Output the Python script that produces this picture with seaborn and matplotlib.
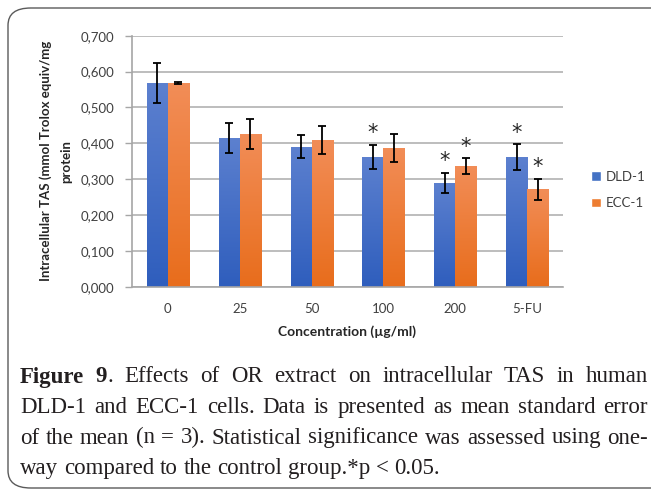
import numpy as np
import pandas as pd
import matplotlib
matplotlib.use("Agg")
import matplotlib.pyplot as plt
import seaborn as sns
from matplotlib.patches import FancyBboxPatch, Patch
from matplotlib.colors import LinearSegmentedColormap

# ---- data ----
concentrations = ["0", "25", "50", "100", "200", "5-FU"]
dld1_mean = [0.568, 0.415, 0.390, 0.362, 0.289, 0.362]
dld1_se = [0.056, 0.041, 0.032, 0.034, 0.029, 0.036]
ecc1_mean = [0.568, 0.426, 0.409, 0.387, 0.337, 0.272]
ecc1_se = [0.002, 0.041, 0.040, 0.038, 0.022, 0.029]
dld1_sig = [False, False, False, True, True, True]
ecc1_sig = [False, False, False, False, True, True]
series = ["DLD-1", "ECC-1"]
y_ticks = [0.0, 0.1, 0.2, 0.3, 0.4, 0.5, 0.6, 0.7]
y_label = "Intracellular TAS (mmol Trolox equiv/mg\nprotein"
x_label = "Concentration (µg/ml)"
caption_lines = [
    [[("Figure", "bold")], [("9", "bold"), (".", "normal")], "Effects", "of", "OR", "extract",
     "on", "intracellular", "TAS", "in", "human"],
    "DLD-1 and ECC-1 cells. Data is presented as mean standard error".split(),
    "of the mean (n = 3). Statistical significance was assessed using one-".split(),
    "way compared to the control group.*p < 0.05.".split(),
]

df = pd.DataFrame({
    "Concentration": concentrations * 2,
    "Value": dld1_mean + ecc1_mean,
    "Line": [series[0]] * len(concentrations) + [series[1]] * len(concentrations),
})

W, H = 651, 495
fig = plt.figure(figsize=(W / 100, H / 100), dpi=100)
sns.set_style("white")
plt.rcParams["font.family"] = ["Lato", "DejaVu Sans"]

ax = fig.add_axes([132 / W, 1 - 286.7 / H, (563 - 132) / W, (286.7 - 35.7) / H])
sns.barplot(data=df, x="Concentration", y="Value", hue="Line", order=concentrations,
            hue_order=series, palette=["#4472C4", "#ED7D31"], errorbar=None,
            width=0.585, gap=0, ax=ax, legend=False, saturation=1)

ax.set_ylim(0, 0.7)
ax.set_yticks(y_ticks)
ax.set_yticklabels([f"{v:.3f}".replace(".", ",") for v in y_ticks], fontsize=9.5, color="#404040")
ax.tick_params(axis="x", labelsize=9.5, labelcolor="#404040", length=0, pad=12)
ax.tick_params(axis="y", length=5, color="#A6A6A6", width=1, direction="out", pad=8, left=True)
ax.grid(axis="y", color="#BDBDBD", lw=1.4)
ax.set_axisbelow(True)
for s in ["top", "right"]:
    ax.spines[s].set_visible(False)
for s in ["left", "bottom"]:
    ax.spines[s].set_color("#A6A6A6")
    ax.spines[s].set_linewidth(1.2)
ax.set_xlabel(x_label, fontsize=10, fontweight="bold", color="#262626", labelpad=7)
ax.set_ylabel(y_label, fontsize=9.5, fontweight="bold", color="#262626", labelpad=6,
              linespacing=1.75)

grads = [
    LinearSegmentedColormap.from_list("b", ["#2F5EBD", "#5C80CF"]),
    LinearSegmentedColormap.from_list("o", ["#E86D1C", "#F28D57"]),
]
means = [dld1_mean, ecc1_mean]
ses = [dld1_se, ecc1_se]
sigs = [dld1_sig, ecc1_sig]
xl, yl = ax.get_xlim(), ax.get_ylim()
bar_containers = list(ax.containers)
for k, cont in enumerate(bar_containers):
    xs = []
    for p in cont.patches:
        x0, w, h = p.get_x(), p.get_width(), p.get_height()
        xs.append(x0 + w / 2)
        im = ax.imshow(np.linspace(0, 1, 100).reshape(-1, 1), cmap=grads[k], aspect="auto",
                       extent=[x0, x0 + w, 0, h], origin="lower", zorder=2)
        im.set_clip_path(p)
        p.set_edgecolor("none")
    ax.errorbar(xs, means[k], yerr=ses[k], fmt="none", ecolor="black", elinewidth=1.3,
                capsize=3, capthick=1.3, zorder=4)
    for x, m, e, s in zip(xs, means[k], ses[k], sigs[k]):
        if s:
            ax.text(x, m + e + 0.004, "*", ha="center", va="bottom", fontsize=15,
                    family="DejaVu Sans", color="#262626", zorder=5)
ax.set_xlim(xl)
ax.set_ylim(yl)

handles = [Patch(facecolor="#4472C4", label=series[0]), Patch(facecolor="#ED7D31", label=series[1])]
fig.legend(handles=handles, loc="center left", bbox_to_anchor=(579 / W, 1 - 190 / H),
           frameon=False, fontsize=9.5, handlelength=0.75, handleheight=0.75,
           handletextpad=0.4, labelspacing=1.1, labelcolor="#404040")

# frame
fig.patches.append(FancyBboxPatch((8 / W, 1 - 488 / H), 700 / W, 480 / H,
                                  boxstyle="round,pad=0,rounding_size=0.035",
                                  transform=fig.transFigure, fill=False,
                                  edgecolor="#5A5A5A", lw=1.0))

# caption, justified
fig.canvas.draw()
renderer = fig.canvas.get_renderer()
cap_fs = 16.5
x_left, x_right = 20, 648
baselines = [382.5, 413, 443.5, 474]


def word_parts(w):
    if isinstance(w, str):
        return [(w, "normal")]
    return w


def width_of(txt, weight):
    t = fig.text(0, 0, txt, fontsize=cap_fs, family="Liberation Serif", fontweight=weight)
    bb = t.get_window_extent(renderer)
    t.remove()
    return bb.width


space_w = width_of("a a", "normal") - width_of("aa", "normal")
for i, line in enumerate(caption_lines):
    words = [word_parts(w) for w in line]
    wwidths = [[width_of(t, wt) for t, wt in parts] for parts in words]
    total = sum(sum(ws) for ws in wwidths)
    if i < len(caption_lines) - 1:
        gap = (x_right - x_left - total) / (len(words) - 1)
    else:
        gap = space_w
    x = x_left
    for parts, ws in zip(words, wwidths):
        for (t, wt), wd in zip(parts, ws):
            fig.text(x / W, 1 - baselines[i] / H, t, fontsize=cap_fs, family="Liberation Serif",
                     fontweight=wt, color="#231F20", va="baseline", ha="left")
            x += wd
        x += gap

fig.savefig("out.png", dpi=100)
